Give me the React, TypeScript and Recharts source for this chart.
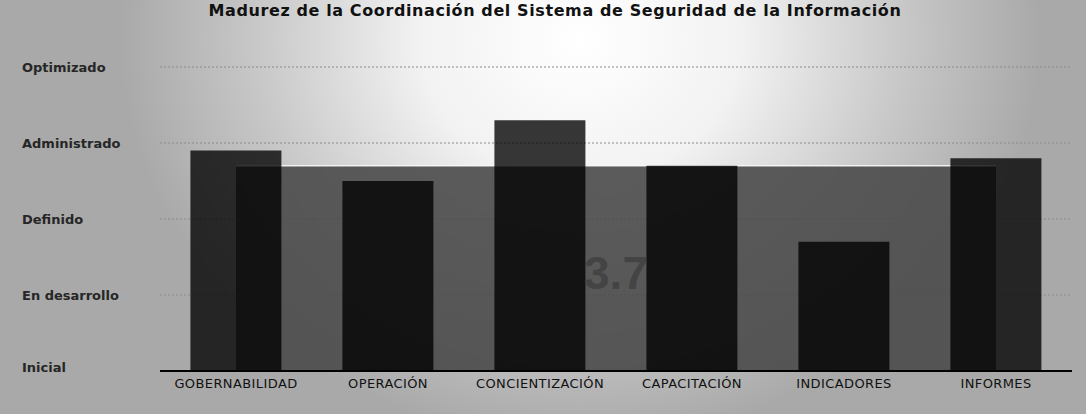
import { ComposedChart, Bar, Area, XAxis, YAxis, CartesianGrid, ReferenceLine } from "recharts";

const categories = ["GOBERNABILIDAD", "OPERACIÓN", "CONCIENTIZACIÓN", "CAPACITACIÓN", "INDICADORES", "INFORMES"];
const scores = [3.9, 3.5, 4.3, 3.7, 2.7, 3.8];
const average = [3.7, 3.7, 3.7, 3.7, 3.7, 3.7];
const levelTicks = [1, 2, 3, 4, 5];
const levelLabels = ["Inicial", "En desarrollo", "Definido", "Administrado", "Optimizado"];
const averageLabel = "3.7";
const title = "Madurez de la Coordinación del Sistema de Seguridad de la Información";

const data = categories.map((name, i) => ({ name, score: scores[i], avg: average[i] }));

const LevelTick = (props: any) => {
  const { y, payload } = props;
  // the bottom label sits a little above the axis line in the original
  const shift = payload.value === 1 ? -4 : 0;
  return (
    <text x={22} y={y + shift} dy={5} textAnchor="start" fontSize={13} fontWeight="bold" fill="#262626" fontFamily="DejaVu Sans">
      {levelLabels[levelTicks.indexOf(payload.value)]}
    </text>
  );
};

export default function App() {
  return (
    <div
      style={{
        position: "absolute",
        top: 0,
        left: 0,
        width: 1086,
        height: 414,
        overflow: "hidden",
        background:
          "radial-gradient(ellipse 460px 400px at 580px 40px, #ffffff 0%, #f2f2f2 35%, #c8c8c8 70%, #a9a9a9 100%)",
      }}
    >
      <div
        style={{
          position: "absolute",
          top: 2,
          left: 0,
          width: 1110,
          textAlign: "center",
          fontFamily: "DejaVu Sans",
          fontWeight: "bold",
          fontSize: 16,
          lineHeight: "18px",
          letterSpacing: 0.6,
          color: "#111",
        }}
      >
        {title}
      </div>
      <ComposedChart
        width={1086}
        height={414}
        data={data}
        margin={{ top: 67, right: 14, bottom: 13, left: 0 }}
        barCategoryGap="20%"
      >
        <CartesianGrid vertical={false} stroke="#8a8a8a" strokeDasharray="2 2" />
        <XAxis
          dataKey="name"
          axisLine={{ stroke: "#000", strokeWidth: 2 }}
          tickLine={false}
          height={30}
          tick={{ fontSize: 13, fill: "#111", fontFamily: "DejaVu Sans", letterSpacing: 0.4 }}
          interval={0}
        />
        <YAxis
          type="number"
          domain={[1, 5]}
          ticks={levelTicks}
          width={160}
          axisLine={false}
          tickLine={false}
          tick={<LevelTick />}
        />
        <Area
          type="linear"
          dataKey="avg"
          fill="#4a4a4a"
          fillOpacity={0.9}
          stroke="#ffffff"
          strokeOpacity={0.85}
          strokeWidth={1.5}
          isAnimationActive={false}
        />
        <Bar dataKey="score" fill="#000" fillOpacity={0.78} isAnimationActive={false} />
        <ReferenceLine
          y={2.3}
          stroke="none"
          label={{
            value: averageLabel,
            position: "center",
            fontSize: 46,
            fontWeight: "bold",
            fill: "#444",
            fontFamily: "Liberation Sans",
          }}
        />
      </ComposedChart>
    </div>
  );
}
